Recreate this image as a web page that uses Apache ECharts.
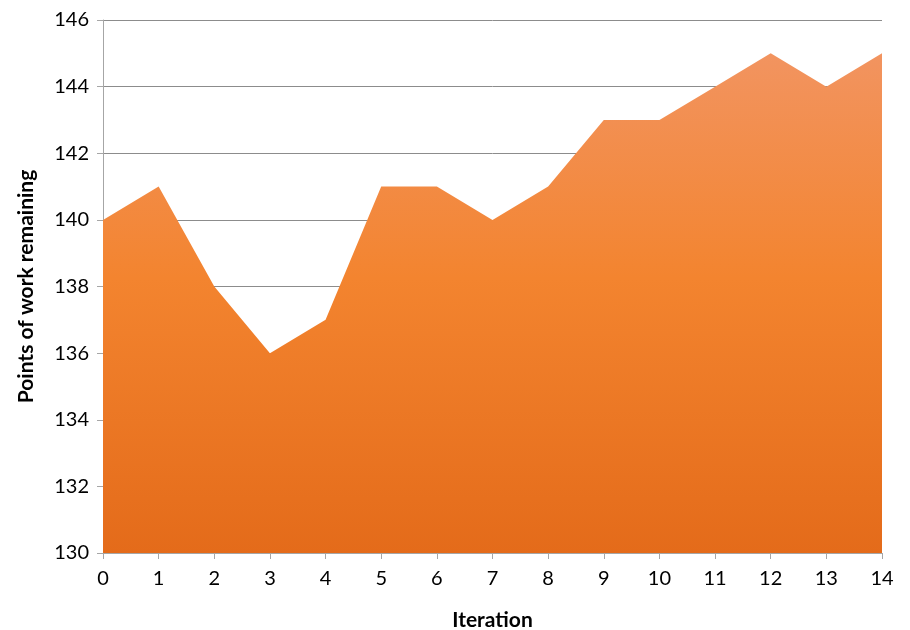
<!DOCTYPE html>
<html>
<head>
<meta charset="utf-8">
<script src="https://cdn.jsdelivr.net/npm/echarts@6/dist/echarts.min.js"></script>
<style>
  html, body { margin: 0; padding: 0; background: #fff; }
  #chart { width: 910px; height: 630px; }
</style>
</head>
<body>
<div id="chart"></div>
<script>
// iterations along the bottom
const iterations = ['0', '1', '2', '3', '4', '5', '6', '7', '8', '9', '10', '11', '12', '13', '14']
// points of work remaining at each iteration
const pointsRemaining = [140, 141, 138, 136, 137, 141, 141, 140, 141, 143, 143, 144, 145, 144, 145]

const font = 'Lato, "Open Sans", sans-serif'

const chart = echarts.init(document.getElementById('chart'))
chart.setOption({
  animation: false,
  textStyle: { fontFamily: font },
  grid: { left: 103, right: 28, top: 20, bottom: 77, outerBoundsMode: 'none', containLabel: false },
  xAxis: {
    type: 'category',
    data: iterations,
    boundaryGap: false,
    name: 'Iteration',
    nameLocation: 'middle',
    nameGap: 57,
    nameTextStyle: { fontFamily: font, fontWeight: 'bold', fontSize: 21, color: '#000' },
    axisLine: { lineStyle: { color: '#a6a6a6', width: 1 } },
    axisTick: { show: true, length: 6, lineStyle: { color: '#a6a6a6' } },
    axisLabel: { color: '#000', fontSize: 20, margin: 16, fontFamily: font },
    splitLine: { show: false }
  },
  yAxis: {
    type: 'value',
    min: 130,
    max: 146,
    interval: 2,
    name: 'Points of work remaining',
    nameLocation: 'middle',
    nameGap: 66,
    nameTextStyle: { fontFamily: font, fontWeight: 'bold', fontSize: 21, color: '#000' },
    axisLine: { show: true, lineStyle: { color: '#a6a6a6', width: 1 } },
    axisTick: { show: true, length: 6, lineStyle: { color: '#a6a6a6' } },
    axisLabel: { color: '#000', fontSize: 20, margin: 14, fontFamily: font },
    splitLine: { show: true, lineStyle: { color: '#8c8c8c', width: 1 } }
  },
  series: [
    {
      type: 'line',
      data: pointsRemaining,
      symbol: 'none',
      lineStyle: { width: 0 },
      areaStyle: {
        opacity: 1,
        origin: 'start',
        color: new echarts.graphic.LinearGradient(0, 0, 0, 1, [
          { offset: 0, color: '#f29460' },
          { offset: 0.45, color: '#f3842f' },
          { offset: 1, color: '#e46b1a' }
        ])
      },
      z: 3
    }
  ]
})
</script>
</body>
</html>
